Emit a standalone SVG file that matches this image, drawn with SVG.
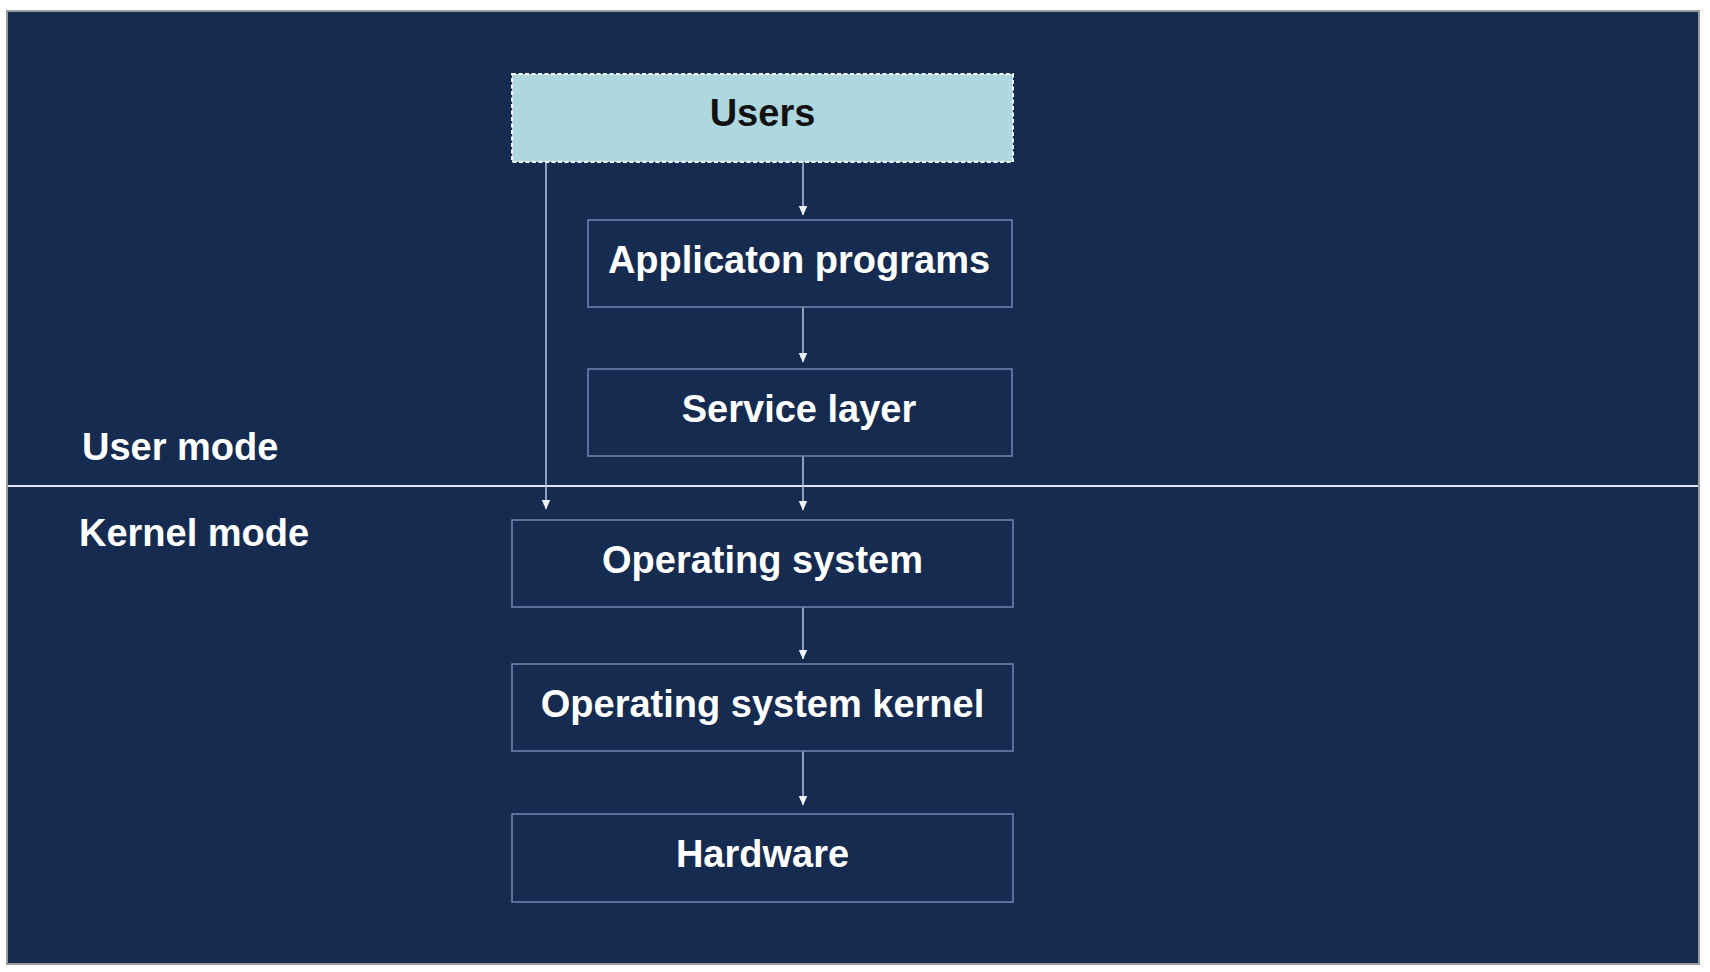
<svg xmlns="http://www.w3.org/2000/svg" width="1710" height="972" viewBox="0 0 1710 972">
<style>
.bg{fill:#162b50}
.box{fill:#162b50;stroke:#7386b0;stroke-width:1.5}
.users{fill:#aed7df;stroke:#f4f8fa;stroke-width:2;stroke-dasharray:4 2.5}
.t{font-family:"Liberation Sans",Arial,sans-serif;font-weight:bold;font-size:38px;fill:#ffffff;text-anchor:middle}
.lbl{font-family:"Liberation Sans",Arial,sans-serif;font-weight:bold;font-size:38px;fill:#ffffff}
.dark{fill:#111111}
.conn{stroke:#b9c4df;stroke-width:1.5;fill:none}
</style>
<defs>
<marker id="ah" markerWidth="10" markerHeight="10" refX="9.5" refY="5" orient="auto" markerUnits="userSpaceOnUse">
<path d="M0,0.5 L10,5 L0,9.5 Z" fill="#eef2fa"/>
</marker>
</defs>
<rect x="0" y="0" width="1710" height="972" fill="#ffffff"/>
<rect x="7" y="11" width="1692" height="953" class="bg" stroke="#9a9a9a" stroke-width="2"/>
<line x1="8" y1="486" x2="1698" y2="486" stroke="#e2e7ef" stroke-width="2"/>
<g id="mode-labels">
<text class="lbl" x="82" y="460">User mode</text>
<text class="lbl" x="79" y="546">Kernel mode</text>
</g>
<g id="connectors">
<line class="conn" x1="803" y1="162" x2="803" y2="215" marker-end="url(#ah)"/>
<line class="conn" x1="803" y1="307" x2="803" y2="362" marker-end="url(#ah)"/>
<line class="conn" x1="803" y1="456" x2="803" y2="510" marker-end="url(#ah)"/>
<line class="conn" x1="803" y1="607" x2="803" y2="659" marker-end="url(#ah)"/>
<line class="conn" x1="803" y1="751" x2="803" y2="805" marker-end="url(#ah)"/>
<line class="conn" x1="546" y1="162" x2="546" y2="509" marker-end="url(#ah)"/>
</g>
<g id="users">
<rect class="users" x="512" y="74" width="501" height="88"/>
<text class="t dark" x="762.5" y="126">Users</text>
</g>
<g id="application-programs">
<rect class="box" x="588" y="220" width="424" height="87"/>
<text class="t" x="799" y="273">Applicaton programs</text>
</g>
<g id="service-layer">
<rect class="box" x="588" y="369" width="424" height="87"/>
<text class="t" x="799" y="422">Service layer</text>
</g>
<g id="operating-system">
<rect class="box" x="512" y="520" width="501" height="87"/>
<text class="t" x="762.5" y="573">Operating system</text>
</g>
<g id="operating-system-kernel">
<rect class="box" x="512" y="664" width="501" height="87"/>
<text class="t" x="762.5" y="717">Operating system kernel</text>
</g>
<g id="hardware">
<rect class="box" x="512" y="814" width="501" height="88"/>
<text class="t" x="762.5" y="867">Hardware</text>
</g>
</svg>
